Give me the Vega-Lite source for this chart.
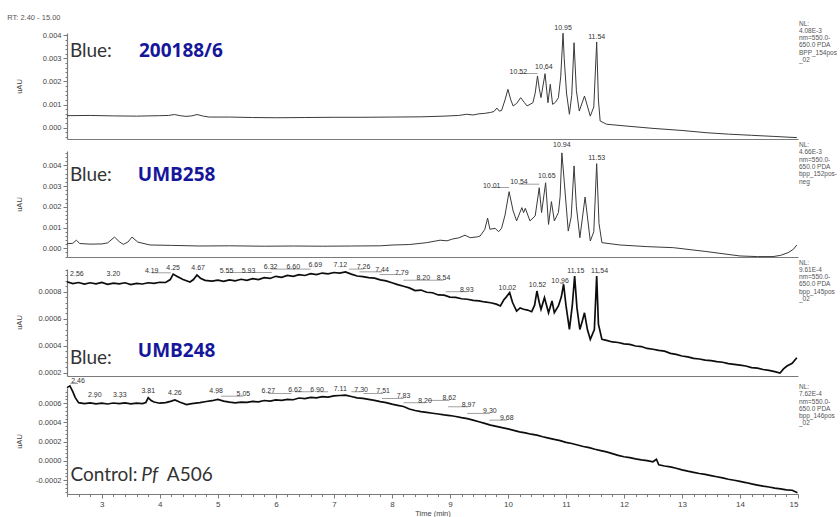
{
  "$schema": "https://vega.github.io/schema/vega-lite/v6.json",
  "padding": {"left": 7, "top": 13, "right": 0, "bottom": 0},
  "spacing": 12,
  "bounds": "flush",
  "config": {
    "view": {"stroke": null},
    "font": "Liberation Sans",
    "axis": {"domainColor": "#7a7a7a", "tickColor": "#7a7a7a", "labelColor": "#444", "labelFontSize": 7.5, "titleFontSize": 7.5, "titleFontWeight": "normal", "titleColor": "#444", "grid": false, "labelPadding": 2, "labelFont": "Liberation Sans", "titleFont": "Liberation Sans", "domainWidth": 1.2, "labelOverlap": false, "labelBound": false}
  },
  "datasets": {
    "p1": [
      {"t":2.4,"v":0.00052},{"t":2.8,"v":0.00053},{"t":3.2,"v":0.00051},{"t":3.6,"v":0.0005},{"t":4.0,"v":0.00052},{"t":4.15,"v":0.00053},{"t":4.25,"v":0.00057},{"t":4.35,"v":0.00052},{"t":4.45,"v":0.00049},{"t":4.55,"v":0.00051},{"t":4.64,"v":0.00057},{"t":4.75,"v":0.0005},{"t":4.85,"v":0.00046},{"t":5.2,"v":0.00046},{"t":5.6,"v":0.00044},{"t":6.0,"v":0.00043},{"t":6.5,"v":0.00044},{"t":7.0,"v":0.00045},{"t":7.5,"v":0.00045},{"t":8.0,"v":0.00046},{"t":8.5,"v":0.00047},{"t":8.9,"v":0.0005},{"t":9.15,"v":0.00053},{"t":9.29,"v":0.00058},{"t":9.4,"v":0.00055},{"t":9.5,"v":0.0006},{"t":9.6,"v":0.00062},{"t":9.7,"v":0.00066},{"t":9.76,"v":0.0007},{"t":9.81,"v":0.00085},{"t":9.85,"v":0.00072},{"t":9.89,"v":0.00074},{"t":9.95,"v":0.0012},{"t":10.0,"v":0.00166},{"t":10.05,"v":0.0012},{"t":10.09,"v":0.00094},{"t":10.15,"v":0.00105},{"t":10.22,"v":0.0013},{"t":10.28,"v":0.0011},{"t":10.33,"v":0.00094},{"t":10.43,"v":0.00108},{"t":10.47,"v":0.0015},{"t":10.51,"v":0.00224},{"t":10.54,"v":0.0017},{"t":10.57,"v":0.0013},{"t":10.64,"v":0.00234},{"t":10.69,"v":0.00108},{"t":10.73,"v":0.00188},{"t":10.77,"v":0.00101},{"t":10.82,"v":0.0011},{"t":10.87,"v":0.0013},{"t":10.91,"v":0.0022},{"t":10.95,"v":0.00409},{"t":10.97,"v":0.003},{"t":11.01,"v":0.0015},{"t":11.06,"v":0.00058},{"t":11.1,"v":0.0014},{"t":11.14,"v":0.00368},{"t":11.18,"v":0.0016},{"t":11.23,"v":0.00072},{"t":11.32,"v":0.00137},{"t":11.42,"v":0.0005},{"t":11.48,"v":0.0009},{"t":11.53,"v":0.00371},{"t":11.56,"v":0.0012},{"t":11.59,"v":0.00029},{"t":11.7,"v":0.00015},{"t":12.0,"v":0.00008},{"t":12.5,"v":-0.00003},{"t":13.0,"v":-0.00012},{"t":13.43,"v":-0.00022},{"t":13.8,"v":-0.00028},{"t":14.2,"v":-0.00033},{"t":14.6,"v":-0.00038},{"t":14.98,"v":-0.00043}
    ],
    "p2": [
      {"t":2.4,"v":0.00022},{"t":2.5,"v":0.00024},{"t":2.56,"v":0.00039},{"t":2.62,"v":0.00023},{"t":2.8,"v":0.0002},{"t":3.0,"v":0.00021},{"t":3.1,"v":0.00026},{"t":3.22,"v":0.00054},{"t":3.3,"v":0.00032},{"t":3.37,"v":0.00019},{"t":3.45,"v":0.0003},{"t":3.52,"v":0.00054},{"t":3.62,"v":0.0003},{"t":3.83,"v":0.00016},{"t":4.2,"v":0.00014},{"t":4.69,"v":0.00011},{"t":5.2,"v":0.00012},{"t":5.8,"v":0.0001},{"t":6.3,"v":0.00011},{"t":6.8,"v":0.0001},{"t":7.3,"v":0.00011},{"t":7.8,"v":0.00012},{"t":8.02,"v":0.00016},{"t":8.3,"v":0.00018},{"t":8.6,"v":0.00027},{"t":8.83,"v":0.00039},{"t":8.95,"v":0.00036},{"t":9.05,"v":0.00045},{"t":9.15,"v":0.0005},{"t":9.26,"v":0.00063},{"t":9.35,"v":0.00051},{"t":9.47,"v":0.00055},{"t":9.52,"v":0.00059},{"t":9.6,"v":0.0009},{"t":9.65,"v":0.00145},{"t":9.69,"v":0.00092},{"t":9.78,"v":0.00096},{"t":9.84,"v":0.0008},{"t":9.89,"v":0.00096},{"t":9.95,"v":0.0016},{"t":10.02,"v":0.00273},{"t":10.09,"v":0.0018},{"t":10.15,"v":0.00132},{"t":10.24,"v":0.00196},{"t":10.27,"v":0.00172},{"t":10.3,"v":0.00193},{"t":10.38,"v":0.00132},{"t":10.47,"v":0.00156},{"t":10.54,"v":0.00292},{"t":10.58,"v":0.00172},{"t":10.65,"v":0.00316},{"t":10.7,"v":0.00115},{"t":10.75,"v":0.00225},{"t":10.8,"v":0.00132},{"t":10.87,"v":0.00172},{"t":10.9,"v":0.0025},{"t":10.93,"v":0.0046},{"t":10.97,"v":0.00324},{"t":11.04,"v":0.00083},{"t":11.09,"v":0.0015},{"t":11.14,"v":0.00397},{"t":11.18,"v":0.002},{"t":11.24,"v":0.00051},{"t":11.33,"v":0.00247},{"t":11.42,"v":0.00035},{"t":11.48,"v":0.0008},{"t":11.53,"v":0.00408},{"t":11.57,"v":0.0012},{"t":11.62,"v":0.00027},{"t":11.93,"v":0.00016},{"t":12.4,"v":0.00008},{"t":12.85,"v":0.00003},{"t":13.4,"v":-0.00015},{"t":14.0,"v":-0.00037},{"t":14.3,"v":-0.0004},{"t":14.57,"v":-0.0004},{"t":14.7,"v":-0.00034},{"t":14.83,"v":-0.00021},{"t":14.92,"v":-0.00005},{"t":14.98,"v":0.00016}
    ],
    "p3": [
      {"t":2.4,"v":0.000874},{"t":2.5,"v":0.00086},{"t":2.6,"v":0.000868},{"t":2.7,"v":0.000856},{"t":2.8,"v":0.000866},{"t":2.9,"v":0.000858},{"t":3.0,"v":0.000869},{"t":3.1,"v":0.000855},{"t":3.2,"v":0.000864},{"t":3.3,"v":0.000858},{"t":3.4,"v":0.000866},{"t":3.5,"v":0.000852},{"t":3.6,"v":0.000862},{"t":3.7,"v":0.000857},{"t":3.8,"v":0.000866},{"t":3.9,"v":0.000861},{"t":4.0,"v":0.00087},{"t":4.1,"v":0.000868},{"t":4.18,"v":0.00089},{"t":4.23,"v":0.00093},{"t":4.3,"v":0.000912},{"t":4.4,"v":0.00089},{"t":4.52,"v":0.000872},{"t":4.58,"v":0.00089},{"t":4.64,"v":0.000924},{"t":4.7,"v":0.0009},{"t":4.78,"v":0.000884},{"t":4.9,"v":0.000878},{"t":5.0,"v":0.000886},{"t":5.1,"v":0.000876},{"t":5.2,"v":0.000888},{"t":5.3,"v":0.00088},{"t":5.4,"v":0.000892},{"t":5.5,"v":0.000884},{"t":5.6,"v":0.000896},{"t":5.7,"v":0.00089},{"t":5.8,"v":0.000904},{"t":5.9,"v":0.000898},{"t":6.0,"v":0.000914},{"t":6.1,"v":0.000906},{"t":6.2,"v":0.00092},{"t":6.3,"v":0.000914},{"t":6.4,"v":0.000926},{"t":6.5,"v":0.00092},{"t":6.6,"v":0.000934},{"t":6.7,"v":0.000926},{"t":6.8,"v":0.000938},{"t":6.9,"v":0.000932},{"t":7.0,"v":0.000942},{"t":7.1,"v":0.000938},{"t":7.2,"v":0.000946},{"t":7.3,"v":0.00093},{"t":7.4,"v":0.000916},{"t":7.5,"v":0.000912},{"t":7.6,"v":0.000904},{"t":7.7,"v":0.0009},{"t":7.8,"v":0.000888},{"t":7.9,"v":0.00088},{"t":8.0,"v":0.000866},{"t":8.1,"v":0.000852},{"t":8.2,"v":0.00084},{"t":8.3,"v":0.000828},{"t":8.4,"v":0.000808},{"t":8.5,"v":0.000812},{"t":8.6,"v":0.000796},{"t":8.7,"v":0.000792},{"t":8.8,"v":0.000776},{"t":8.9,"v":0.000774},{"t":9.0,"v":0.00076},{"t":9.1,"v":0.000758},{"t":9.2,"v":0.000748},{"t":9.3,"v":0.000744},{"t":9.4,"v":0.000736},{"t":9.5,"v":0.000732},{"t":9.6,"v":0.000724},{"t":9.7,"v":0.000718},{"t":9.8,"v":0.000708},{"t":9.87,"v":0.000694},{"t":9.93,"v":0.00074},{"t":9.97,"v":0.00076},{"t":10.03,"v":0.000793},{"t":10.08,"v":0.00072},{"t":10.15,"v":0.000657},{"t":10.21,"v":0.00068},{"t":10.27,"v":0.00067},{"t":10.34,"v":0.000664},{"t":10.41,"v":0.000652},{"t":10.46,"v":0.0007},{"t":10.5,"v":0.000805},{"t":10.54,"v":0.00072},{"t":10.57,"v":0.00067},{"t":10.63,"v":0.000756},{"t":10.7,"v":0.000644},{"t":10.76,"v":0.000731},{"t":10.8,"v":0.000644},{"t":10.87,"v":0.000694},{"t":10.92,"v":0.00076},{"t":10.96,"v":0.000855},{"t":11.0,"v":0.0007},{"t":11.06,"v":0.000521},{"t":11.11,"v":0.0007},{"t":11.15,"v":0.000916},{"t":11.19,"v":0.00068},{"t":11.24,"v":0.000521},{"t":11.28,"v":0.00058},{"t":11.32,"v":0.000644},{"t":11.37,"v":0.00052},{"t":11.42,"v":0.000447},{"t":11.49,"v":0.00052},{"t":11.53,"v":0.000916},{"t":11.56,"v":0.00056},{"t":11.62,"v":0.000447},{"t":11.7,"v":0.00044},{"t":11.8,"v":0.000428},{"t":11.9,"v":0.000424},{"t":12.0,"v":0.000414},{"t":12.1,"v":0.00041},{"t":12.2,"v":0.000398},{"t":12.3,"v":0.000394},{"t":12.4,"v":0.00038},{"t":12.5,"v":0.000374},{"t":12.6,"v":0.000366},{"t":12.7,"v":0.00036},{"t":12.8,"v":0.000344},{"t":12.9,"v":0.000336},{"t":13.0,"v":0.000324},{"t":13.1,"v":0.000318},{"t":13.2,"v":0.000306},{"t":13.3,"v":0.000302},{"t":13.4,"v":0.000294},{"t":13.5,"v":0.00029},{"t":13.6,"v":0.000282},{"t":13.7,"v":0.000278},{"t":13.8,"v":0.000268},{"t":13.9,"v":0.000262},{"t":14.0,"v":0.000256},{"t":14.1,"v":0.00025},{"t":14.2,"v":0.000238},{"t":14.3,"v":0.000234},{"t":14.4,"v":0.000224},{"t":14.5,"v":0.000218},{"t":14.6,"v":0.000208},{"t":14.69,"v":0.000198},{"t":14.75,"v":0.000228},{"t":14.81,"v":0.00025},{"t":14.9,"v":0.00027},{"t":14.98,"v":0.000311}
    ],
    "p4": [
      {"t":2.4,"v":0.000762},{"t":2.45,"v":0.00078},{"t":2.5,"v":0.00072},{"t":2.54,"v":0.00066},{"t":2.6,"v":0.000606},{"t":2.7,"v":0.000596},{"t":2.8,"v":0.000604},{"t":2.9,"v":0.000594},{"t":3.0,"v":0.0006},{"t":3.1,"v":0.000592},{"t":3.2,"v":0.000602},{"t":3.3,"v":0.000596},{"t":3.4,"v":0.000604},{"t":3.5,"v":0.000594},{"t":3.6,"v":0.0006},{"t":3.7,"v":0.000596},{"t":3.76,"v":0.000608},{"t":3.8,"v":0.000658},{"t":3.85,"v":0.000628},{"t":3.9,"v":0.000612},{"t":4.0,"v":0.0006},{"t":4.1,"v":0.000606},{"t":4.2,"v":0.000622},{"t":4.26,"v":0.000634},{"t":4.35,"v":0.00061},{"t":4.46,"v":0.000586},{"t":4.55,"v":0.000596},{"t":4.69,"v":0.000606},{"t":4.8,"v":0.000618},{"t":4.9,"v":0.000626},{"t":5.0,"v":0.00064},{"t":5.1,"v":0.000622},{"t":5.2,"v":0.000612},{"t":5.3,"v":0.000604},{"t":5.4,"v":0.000612},{"t":5.5,"v":0.000608},{"t":5.6,"v":0.000618},{"t":5.7,"v":0.000614},{"t":5.8,"v":0.000628},{"t":5.9,"v":0.000622},{"t":6.0,"v":0.000634},{"t":6.1,"v":0.00063},{"t":6.2,"v":0.00064},{"t":6.3,"v":0.000636},{"t":6.4,"v":0.000654},{"t":6.5,"v":0.000648},{"t":6.6,"v":0.00066},{"t":6.7,"v":0.000656},{"t":6.8,"v":0.000668},{"t":6.9,"v":0.000664},{"t":7.0,"v":0.000676},{"t":7.1,"v":0.00068},{"t":7.2,"v":0.000684},{"t":7.3,"v":0.00067},{"t":7.4,"v":0.000656},{"t":7.5,"v":0.00065},{"t":7.6,"v":0.00064},{"t":7.7,"v":0.00063},{"t":7.8,"v":0.000616},{"t":7.9,"v":0.000606},{"t":8.0,"v":0.00059},{"t":8.1,"v":0.000578},{"t":8.2,"v":0.000566},{"t":8.3,"v":0.00054},{"t":8.4,"v":0.000524},{"t":8.5,"v":0.000512},{"t":8.6,"v":0.000504},{"t":8.7,"v":0.000496},{"t":8.8,"v":0.000488},{"t":8.9,"v":0.000478},{"t":9.0,"v":0.000472},{"t":9.1,"v":0.000462},{"t":9.2,"v":0.00045},{"t":9.3,"v":0.00044},{"t":9.4,"v":0.000424},{"t":9.5,"v":0.000408},{"t":9.6,"v":0.00039},{"t":9.7,"v":0.000372},{"t":9.8,"v":0.00036},{"t":9.9,"v":0.000346},{"t":10.0,"v":0.000334},{"t":10.1,"v":0.000318},{"t":10.2,"v":0.000302},{"t":10.3,"v":0.000292},{"t":10.4,"v":0.000278},{"t":10.5,"v":0.000268},{"t":10.6,"v":0.000252},{"t":10.7,"v":0.000238},{"t":10.8,"v":0.000224},{"t":10.9,"v":0.000212},{"t":11.0,"v":0.000194},{"t":11.1,"v":0.000182},{"t":11.2,"v":0.000166},{"t":11.3,"v":0.00015},{"t":11.4,"v":0.000138},{"t":11.5,"v":0.000122},{"t":11.6,"v":0.000108},{"t":11.7,"v":0.000094},{"t":11.8,"v":0.000076},{"t":11.9,"v":0.000058},{"t":12.0,"v":0.000044},{"t":12.1,"v":0.000034},{"t":12.2,"v":0.000022},{"t":12.3,"v":0.000012},{"t":12.4,"v":0.000004},{"t":12.5,"v":-0.000008},{"t":12.56,"v":0.000018},{"t":12.6,"v":-0.00004},{"t":12.7,"v":-0.000052},{"t":12.8,"v":-0.000062},{"t":12.9,"v":-0.000076},{"t":13.0,"v":-0.000092},{"t":13.1,"v":-0.000106},{"t":13.2,"v":-0.000118},{"t":13.3,"v":-0.00013},{"t":13.4,"v":-0.00014},{"t":13.5,"v":-0.000152},{"t":13.6,"v":-0.000164},{"t":13.7,"v":-0.000176},{"t":13.8,"v":-0.00019},{"t":13.9,"v":-0.0002},{"t":14.0,"v":-0.000212},{"t":14.1,"v":-0.000224},{"t":14.2,"v":-0.000238},{"t":14.3,"v":-0.00025},{"t":14.4,"v":-0.000262},{"t":14.5,"v":-0.00027},{"t":14.6,"v":-0.000282},{"t":14.7,"v":-0.00029},{"t":14.8,"v":-0.0003},{"t":14.9,"v":-0.000304},{"t":14.99,"v":-0.00033}
    ],
    "l1": [
      {"lab":"10.52","t":10.18,"v":0.002346,"pk":10.51},{"lab":"10.64","t":10.62,"v":0.00252,"pk":10.64},{"lab":"10.95","t":10.95,"v":0.00425,"pk":10.95},{"lab":"11.54","t":11.53,"v":0.00386,"pk":11.53}
    ],
    "l2": [
      {"lab":"10.01","t":9.72,"v":0.00293,"pk":10.02},{"lab":"10.54","t":10.19,"v":0.00309,"pk":10.54},{"lab":"10.65","t":10.67,"v":0.00341,"pk":10.65},{"lab":"10.94","t":10.93,"v":0.00486,"pk":10.93},{"lab":"11.53","t":11.53,"v":0.00425,"pk":11.53}
    ],
    "l3": [
      {"lab":"2.56","t":2.57,"v":0.000915,"pk":2.56},{"lab":"3.20","t":3.2,"v":0.000915,"pk":3.2},{"lab":"4.19","t":3.86,"v":0.00094,"pk":4.19},{"lab":"4.25","t":4.23,"v":0.000964,"pk":4.25},{"lab":"4.67","t":4.66,"v":0.000964,"pk":4.67},{"lab":"5.55","t":5.15,"v":0.000942,"pk":5.55},{"lab":"5.93","t":5.53,"v":0.000942,"pk":5.93},{"lab":"6.32","t":5.91,"v":0.000967,"pk":6.32},{"lab":"6.60","t":6.3,"v":0.000967,"pk":6.6},{"lab":"6.69","t":6.68,"v":0.000984,"pk":6.69},{"lab":"7.12","t":7.11,"v":0.000984,"pk":7.12},{"lab":"7.26","t":7.51,"v":0.000967,"pk":7.26},{"lab":"7.44","t":7.83,"v":0.000947,"pk":7.44},{"lab":"7.79","t":8.17,"v":0.000927,"pk":7.79},{"lab":"8.20","t":8.54,"v":0.000885,"pk":8.2},{"lab":"8.54","t":8.89,"v":0.000885,"pk":8.54},{"lab":"8.93","t":9.29,"v":0.0008,"pk":8.93},{"lab":"10.02","t":9.99,"v":0.000816,"pk":10.02},{"lab":"10.52","t":10.51,"v":0.000836,"pk":10.52},{"lab":"10.96","t":10.9,"v":0.000861,"pk":10.96},{"lab":"11.15","t":11.17,"v":0.00094,"pk":11.15},{"lab":"11.54","t":11.58,"v":0.00094,"pk":11.54}
    ],
    "l4": [
      {"lab":"2.46","t":2.59,"v":0.000805,"pk":2.46},{"lab":"2.90","t":2.88,"v":0.00066,"pk":2.9},{"lab":"3.33","t":3.31,"v":0.00066,"pk":3.33},{"lab":"3.81","t":3.8,"v":0.000701,"pk":3.81},{"lab":"4.26","t":4.26,"v":0.000684,"pk":4.26},{"lab":"4.98","t":4.97,"v":0.000701,"pk":4.98},{"lab":"5.05","t":5.44,"v":0.000673,"pk":5.05},{"lab":"6.27","t":5.87,"v":0.000701,"pk":6.27},{"lab":"6.62","t":6.33,"v":0.000719,"pk":6.62},{"lab":"6.90","t":6.71,"v":0.000719,"pk":6.9},{"lab":"7.11","t":7.11,"v":0.000729,"pk":7.11},{"lab":"7.30","t":7.47,"v":0.000719,"pk":7.3},{"lab":"7.51","t":7.85,"v":0.000701,"pk":7.51},{"lab":"7.83","t":8.2,"v":0.000649,"pk":7.83},{"lab":"8.20","t":8.57,"v":0.000605,"pk":8.2},{"lab":"8.62","t":8.99,"v":0.000629,"pk":8.62},{"lab":"8.97","t":9.32,"v":0.000563,"pk":8.97},{"lab":"9.30","t":9.69,"v":0.000494,"pk":9.3},{"lab":"9.68","t":9.98,"v":0.000424,"pk":9.68}
    ],
    "a1": [
      {"k":"rt","txt":"RT: 2.40 - 15.00","t":1.37,"v":0.00475},
      {"k":"nl","txt":"NL:|4.08E-3|nm=550.0-|650.0  PDA|BPP_154pos|_02","t":15,"v":0.00464},
      {"k":"blue","txt":"Blue:","t":2.45,"v":0.00305},
      {"k":"id","txt":"200188/6","t":3.64,"v":0.00305}
    ],
    "a2": [
      {"k":"nl","txt":"NL:|4.66E-3|nm=550.0-|650.0  PDA|bpp_152pos-|neg","t":15,"v":0.00512},
      {"k":"blue","txt":"Blue:","t":2.45,"v":0.00324},
      {"k":"id","txt":"UMB258","t":3.62,"v":0.00324}
    ],
    "a3": [
      {"k":"nl","txt":"NL:|9.61E-4|nm=550.0-|650.0  PDA|bpp_145pos|_02","t":15,"v":0.001038},
      {"k":"blue","txt":"Blue:","t":2.45,"v":0.000262},
      {"k":"id","txt":"UMB248","t":3.62,"v":0.000316}
    ],
    "a4": [
      {"k":"nl","txt":"NL:|7.62E-4|nm=550.0-|650.0  PDA|bpp_146pos|_02","t":15,"v":0.0008},
      {"k":"blue","txt":"Control:","t":2.46,"v":-0.000208},
      {"k":"it","txt":"Pf","t":3.68,"v":-0.000208},
      {"k":"blue","txt":"A506","t":4.12,"v":-0.000208}
    ]
  },
  "vconcat": [
    {
      "width": 731, "height": 106,
      "encoding": {
        "x": {"field": "t", "type": "quantitative", "scale": {"domain": [2.4, 15], "nice": false, "zero": false}, "axis": {"labels": false, "ticks": false, "title": null}},
        "y": {"field": "v", "type": "quantitative", "scale": {"domain": [-0.00049, 0.0041], "nice": false, "zero": false},
          "axis": {"title": "uAU", "titleX": -44, "titleY": 53, "values": [-0.0004,-0.0002,0,0.0002,0.0004,0.0006,0.0008,0.001,0.0012,0.0014,0.0016,0.0018,0.002,0.0022,0.0024,0.0026,0.0028,0.003,0.0032,0.0034,0.0036,0.0038,0.004],
            "labelExpr": "abs(datum.value*1000-round(datum.value*1000))<0.01 ? format(datum.value,'.3f') : ''",
            "tickSize": {"condition": {"test": "abs(datum.value*1000-round(datum.value*1000))<0.01", "value": 4}, "value": 2}}}
      },
      "layer": [
        {"data": {"name": "p1"}, "mark": {"type": "line", "color": "#3a3a3a", "strokeWidth": 1}, "encoding": {}},
        {"data": {"name": "l1"}, "mark": {"type": "rule", "color": "#777", "strokeWidth": 0.7}, "encoding": {"x2": {"field": "pk"}}},
        {"data": {"name": "l1"}, "mark": {"type": "text", "fontSize": 7, "color": "#333", "baseline": "alphabetic"}, "encoding": {"text": {"field": "lab"}}},
        {"data": {"name": "a1"}, "transform": [{"filter": "datum.k == 'rt'"}], "mark": {"type": "text", "fontSize": 7.5, "color": "#555", "align": "left", "baseline": "middle"}, "encoding": {"text": {"field": "txt"}}},
        {"data": {"name": "a1"}, "transform": [{"filter": "datum.k == 'nl'"}], "mark": {"type": "text", "fontSize": 6.5, "color": "#555", "align": "left", "baseline": "top", "lineBreak": "|", "lineHeight": 7.3, "dx": 1}, "encoding": {"text": {"field": "txt"}}},
        {"data": {"name": "a1"}, "transform": [{"filter": "datum.k == 'blue'"}], "mark": {"type": "text", "font": "Lato", "fontSize": 19, "color": "#333", "align": "left", "baseline": "alphabetic"}, "encoding": {"text": {"field": "txt"}}},
        {"data": {"name": "a1"}, "transform": [{"filter": "datum.k == 'id'"}], "mark": {"type": "text", "font": "Open Sans", "fontWeight": "bold", "fontSize": 19, "color": "#16169a", "align": "left", "baseline": "alphabetic"}, "encoding": {"text": {"field": "txt"}}}
      ]
    },
    {
      "width": 731, "height": 106,
      "encoding": {
        "x": {"field": "t", "type": "quantitative", "scale": {"domain": [2.4, 15], "nice": false, "zero": false}, "axis": {"labels": false, "ticks": false, "title": null}},
        "y": {"field": "v", "type": "quantitative", "scale": {"domain": [-0.00042, 0.00469], "nice": false, "zero": false},
          "axis": {"title": "uAU", "titleX": -44, "titleY": 53, "values": [-0.0004,-0.0002,0,0.0002,0.0004,0.0006,0.0008,0.001,0.0012,0.0014,0.0016,0.0018,0.002,0.0022,0.0024,0.0026,0.0028,0.003,0.0032,0.0034,0.0036,0.0038,0.004,0.0042,0.0044,0.0046],
            "labelExpr": "abs(datum.value*1000-round(datum.value*1000))<0.01 ? format(datum.value,'.3f') : ''",
            "tickSize": {"condition": {"test": "abs(datum.value*1000-round(datum.value*1000))<0.01", "value": 4}, "value": 2}}}
      },
      "layer": [
        {"data": {"name": "p2"}, "mark": {"type": "line", "color": "#3a3a3a", "strokeWidth": 1}, "encoding": {}},
        {"data": {"name": "l2"}, "mark": {"type": "rule", "color": "#777", "strokeWidth": 0.7}, "encoding": {"x2": {"field": "pk"}}},
        {"data": {"name": "l2"}, "mark": {"type": "text", "fontSize": 7, "color": "#333", "baseline": "alphabetic"}, "encoding": {"text": {"field": "lab"}}},
        {"data": {"name": "a2"}, "transform": [{"filter": "datum.k == 'nl'"}], "mark": {"type": "text", "fontSize": 6.5, "color": "#555", "align": "left", "baseline": "top", "lineBreak": "|", "lineHeight": 7.3, "dx": 1}, "encoding": {"text": {"field": "txt"}}},
        {"data": {"name": "a2"}, "transform": [{"filter": "datum.k == 'blue'"}], "mark": {"type": "text", "font": "Lato", "fontSize": 19, "color": "#333", "align": "left", "baseline": "alphabetic"}, "encoding": {"text": {"field": "txt"}}},
        {"data": {"name": "a2"}, "transform": [{"filter": "datum.k == 'id'"}], "mark": {"type": "text", "font": "Open Sans", "fontWeight": "bold", "fontSize": 19, "color": "#16169a", "align": "left", "baseline": "alphabetic"}, "encoding": {"text": {"field": "txt"}}}
      ]
    },
    {
      "width": 731, "height": 107,
      "encoding": {
        "x": {"field": "t", "type": "quantitative", "scale": {"domain": [2.4, 15], "nice": false, "zero": false}, "axis": {"labels": false, "ticks": false, "title": null}},
        "y": {"field": "v", "type": "quantitative", "scale": {"domain": [0.000176, 0.000968], "nice": false, "zero": false},
          "axis": {"title": "uAU", "titleX": -44, "titleY": 53, "values": [0.0002,0.00024,0.00028,0.00032,0.00036,0.0004,0.00044,0.00048,0.00052,0.00056,0.0006,0.00064,0.00068,0.00072,0.00076,0.0008,0.00084,0.00088,0.00092,0.00096],
            "labelExpr": "abs(datum.value*5000-round(datum.value*5000))<0.01 ? format(datum.value,'.4f') : ''",
            "tickSize": {"condition": {"test": "abs(datum.value*5000-round(datum.value*5000))<0.01", "value": 4}, "value": 2}}}
      },
      "layer": [
        {"data": {"name": "p3"}, "mark": {"type": "line", "color": "#0d0d0d", "strokeWidth": 1.7}, "encoding": {}},
        {"data": {"name": "l3"}, "mark": {"type": "rule", "color": "#777", "strokeWidth": 0.7}, "encoding": {"x2": {"field": "pk"}}},
        {"data": {"name": "l3"}, "mark": {"type": "text", "fontSize": 7, "color": "#333", "baseline": "alphabetic"}, "encoding": {"text": {"field": "lab"}}},
        {"data": {"name": "a3"}, "transform": [{"filter": "datum.k == 'nl'"}], "mark": {"type": "text", "fontSize": 6.5, "color": "#555", "align": "left", "baseline": "top", "lineBreak": "|", "lineHeight": 7.3, "dx": 1}, "encoding": {"text": {"field": "txt"}}},
        {"data": {"name": "a3"}, "transform": [{"filter": "datum.k == 'blue'"}], "mark": {"type": "text", "font": "Lato", "fontSize": 19, "color": "#333", "align": "left", "baseline": "alphabetic"}, "encoding": {"text": {"field": "txt"}}},
        {"data": {"name": "a3"}, "transform": [{"filter": "datum.k == 'id'"}], "mark": {"type": "text", "font": "Open Sans", "fontWeight": "bold", "fontSize": 19, "color": "#16169a", "align": "left", "baseline": "alphabetic"}, "encoding": {"text": {"field": "txt"}}}
      ]
    },
    {
      "width": 731, "height": 106,
      "encoding": {
        "x": {"field": "t", "type": "quantitative", "scale": {"domain": [2.4, 15], "nice": false, "zero": false},
          "axis": {"title": "Time (min)", "titlePadding": 1, "values": [2.4,2.6,2.8,3,3.2,3.4,3.6,3.8,4,4.2,4.4,4.6,4.8,5,5.2,5.4,5.6,5.8,6,6.2,6.4,6.6,6.8,7,7.2,7.4,7.6,7.8,8,8.2,8.4,8.6,8.8,9,9.2,9.4,9.6,9.8,10,10.2,10.4,10.6,10.8,11,11.2,11.4,11.6,11.8,12,12.2,12.4,12.6,12.8,13,13.2,13.4,13.6,13.8,14,14.2,14.4,14.6,14.8,15],
            "labelExpr": "abs(datum.value-round(datum.value))<0.01 ? format(datum.value,'d') : ''",
            "labelFontSize": 8,
            "tickSize": {"condition": {"test": "abs(datum.value-round(datum.value))<0.01", "value": 4}, "value": 2.5}}},
        "y": {"field": "v", "type": "quantitative", "scale": {"domain": [-0.000343, 0.000758], "nice": false, "zero": false},
          "axis": {"title": "uAU", "titleX": -44, "titleY": 53, "values": [-0.00032,-0.00028,-0.00024,-0.0002,-0.00016,-0.00012,-0.00008,-0.00004,0,0.00004,0.00008,0.00012,0.00016,0.0002,0.00024,0.00028,0.00032,0.00036,0.0004,0.00044,0.00048,0.00052,0.00056,0.0006,0.00064,0.00068,0.00072,0.00076],
            "labelExpr": "abs(datum.value*5000-round(datum.value*5000))<0.01 ? replace(format(datum.value,'.4f'),'\u2212','-') : ''",
            "tickSize": {"condition": {"test": "abs(datum.value*5000-round(datum.value*5000))<0.01", "value": 4}, "value": 2}}}
      },
      "layer": [
        {"data": {"name": "p4"}, "mark": {"type": "line", "color": "#0d0d0d", "strokeWidth": 1.7}, "encoding": {}},
        {"data": {"name": "l4"}, "mark": {"type": "rule", "color": "#777", "strokeWidth": 0.7}, "encoding": {"x2": {"field": "pk"}}},
        {"data": {"name": "l4"}, "mark": {"type": "text", "fontSize": 7, "color": "#333", "baseline": "alphabetic"}, "encoding": {"text": {"field": "lab"}}},
        {"data": {"name": "a4"}, "transform": [{"filter": "datum.k == 'nl'"}], "mark": {"type": "text", "fontSize": 6.5, "color": "#555", "align": "left", "baseline": "top", "lineBreak": "|", "lineHeight": 7.3, "dx": 1}, "encoding": {"text": {"field": "txt"}}},
        {"data": {"name": "a4"}, "transform": [{"filter": "datum.k == 'blue'"}], "mark": {"type": "text", "font": "Lato", "fontSize": 19, "color": "#333", "align": "left", "baseline": "alphabetic"}, "encoding": {"text": {"field": "txt"}}},
        {"data": {"name": "a4"}, "transform": [{"filter": "datum.k == 'it'"}], "mark": {"type": "text", "font": "Lato", "fontStyle": "italic", "fontSize": 19, "color": "#333", "align": "left", "baseline": "alphabetic"}, "encoding": {"text": {"field": "txt"}}}
      ]
    }
  ]
}
